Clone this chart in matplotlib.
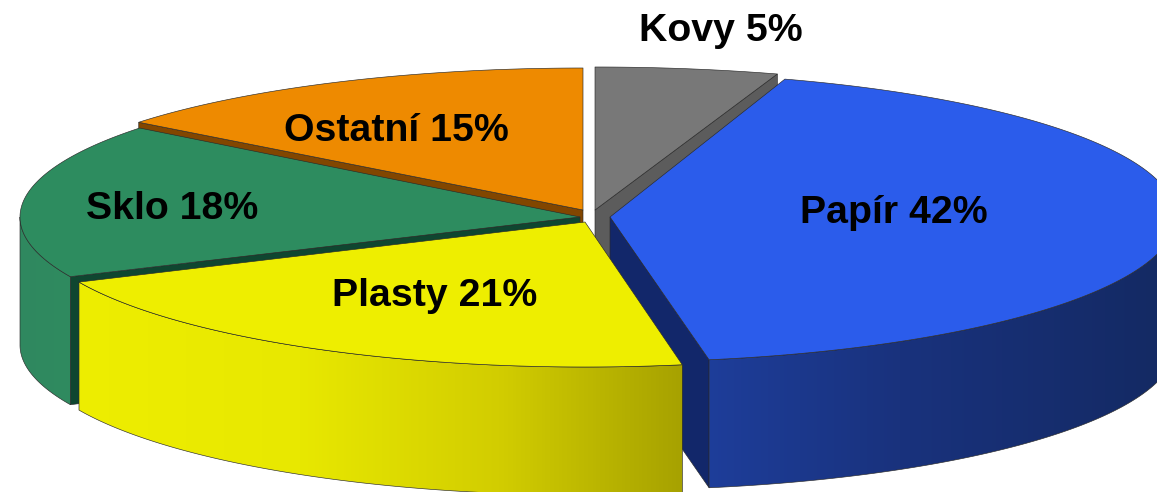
import numpy as np
import matplotlib
matplotlib.use("Agg")
import matplotlib.pyplot as plt
from matplotlib.colors import LinearSegmentedColormap
from matplotlib.patches import Polygon

names = ["Kovy", "Papír", "Plasty", "Sklo", "Ostatní"]
percent_labels = [5, 42, 21, 18, 15]
shares = [5.0, 42.2, 21.0, 17.4, 14.4]

# slice geometry and style, in output pixels
DEPTH = 128
style = {
    "Kovy":    dict(c=(595, 210), rx=590, ry=143, top="#787878", cut="#5c5c5c", wall=None),
    "Papír":   dict(c=(610, 217), rx=566, ry=145, top="#2b5ceb", cut="#12276a",
                    wall=[(700, "#1e3e9b"), (900, "#19327d"), (1157, "#142a64")]),
    "Plasty":  dict(c=(585, 222), rx=556, ry=145, top="#eeee00", cut=None,
                    wall=[(70, "#eeee00"), (300, "#e8e800"), (500, "#d2cd00"), (690, "#a5a000")]),
    "Sklo":    dict(c=(580, 217), rx=560, ry=144, top="#2d8c5f", cut="#0f4630",
                    wall=[(18, "#30885f"), (90, "#2f8c60")]),
    "Ostatní": dict(c=(583, 210), rx=565, ry=142, top="#ee8a00", cut="#824600", wall=None),
}
labels_at = {"Kovy": (721, 31), "Papír": (894, 213), "Plasty": (435, 296),
             "Sklo": (172, 209), "Ostatní": (396, 131)}
draw_order = ["Kovy", "Papír", "Ostatní", "Sklo", "Plasty"]
EDGE = "#2a2a2a"
LW = 0.45

W, H = 1157, 492
fig = plt.figure(figsize=(W / 100, H / 100), dpi=100)
ax = fig.add_axes([0, 0, 1, 1])
ax.set_xlim(0, W)
ax.set_ylim(H, 0)
ax.axis("off")

edges = np.concatenate([[0], np.cumsum(shares)]) / sum(shares) * 360
spans = {n: (edges[i], edges[i + 1]) for i, n in enumerate(names)}


def arc(s, a0, a1, n=200):
    t = np.radians(np.linspace(a0, a1, n))
    return s["c"][0] + s["rx"] * np.sin(t), s["c"][1] - s["ry"] * np.cos(t)


z = 1
for name in draw_order:
    s = style[name]
    a0, a1 = spans[name]
    cx, cy = s["c"]
    x, y = arc(s, a0, a1)

    # flat wall along the cut that faces the viewer
    if s["cut"]:
        if name in ("Papír", "Kovy"):
            ex, ey = x[-1], y[-1]
        else:
            ex, ey = x[0], y[0]
        if name == "Papír":
            ex, ey = x[-1], y[-1]
        ax.fill([cx, ex, ex, cx], [cy, ey, ey + DEPTH, cy + DEPTH],
                fc=s["cut"], ec=EDGE, lw=LW, zorder=z)
        z += 1

    # curved outer wall, front half only, shaded left to right
    if s["wall"]:
        f0, f1 = max(a0, 90), min(a1, 270)
        wx, wy = arc(s, f0, f1)
        pts = np.column_stack([np.r_[wx, wx[::-1]], np.r_[wy, wy[::-1] + DEPTH]])
        stops = s["wall"]
        lo, hi = stops[0][0], stops[-1][0]
        cmap = LinearSegmentedColormap.from_list(
            name, [((p - lo) / (hi - lo), col) for p, col in stops])
        im = ax.imshow(np.linspace(0, 1, 512)[None, :], cmap=cmap, aspect="auto",
                       extent=(lo, hi, H, 0), zorder=z, interpolation="bilinear")
        im.set_clip_path(Polygon(pts, transform=ax.transData))
        ax.add_patch(Polygon(pts, fc="none", ec=EDGE, lw=LW, zorder=z + 0.5))
        z += 1

    # top face
    ax.fill(np.r_[cx, x], np.r_[cy, y], fc=s["top"], ec=EDGE, lw=LW,
            joinstyle="round", zorder=z)
    z += 1

ax.set_xlim(0, W)
ax.set_ylim(H, 0)

for name, val in zip(names, percent_labels):
    px, py = labels_at[name]
    ax.text(px, py, f"{name} {val}%", ha="center", va="center", color="black",
            fontsize=28.3, fontweight="bold", family="Liberation Sans", zorder=100)

fig.savefig("out.png", dpi=100)
